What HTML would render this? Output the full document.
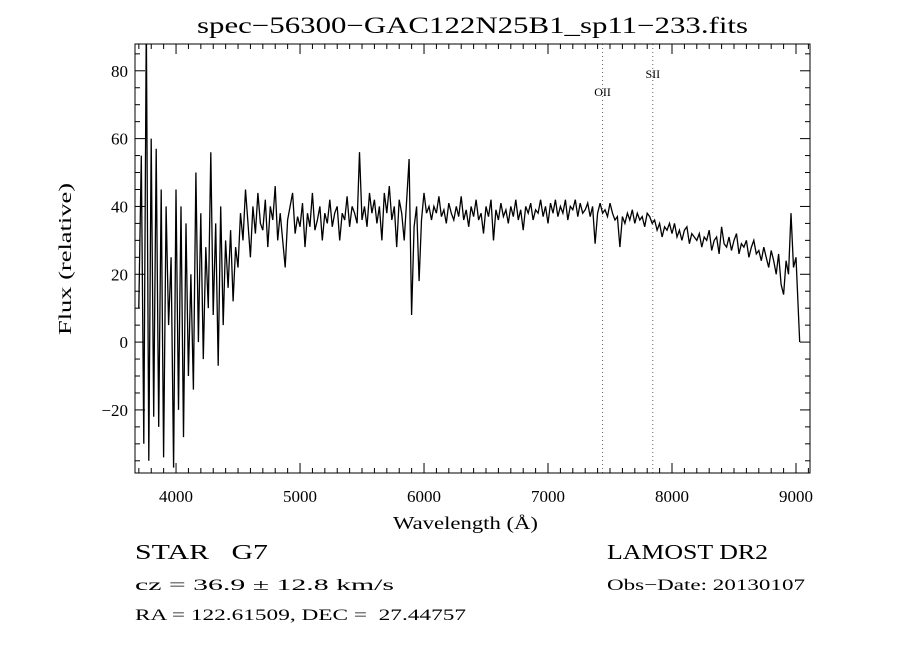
<!DOCTYPE html>
<html><head><meta charset="utf-8">
<style>
html,body{margin:0;padding:0;background:#fff;}
svg{display:block;font-family:"Liberation Serif",serif;}
</style></head>
<body>
<svg id="chart" width="900" height="650" viewBox="0 0 900 650" xmlns="http://www.w3.org/2000/svg">
<rect width="900" height="650" fill="#fff"/>
<text x="197" y="33" font-size="23" textLength="551" lengthAdjust="spacingAndGlyphs">spec−56300−GAC122N25B1_sp11−233.fits</text>
<defs><clipPath id="pc"><rect x="135" y="44" width="675" height="429"/></clipPath></defs>
<g id="lines"></g>
<path id="spec" clip-path="url(#pc)" fill="none" stroke="#000" stroke-width="1.3"/>
<rect x="135" y="44" width="675" height="429" fill="none" stroke="#000" stroke-width="1"/>
<g id="axes"></g>
<text x="393" y="529" font-size="18" textLength="145" lengthAdjust="spacingAndGlyphs">Wavelength (Å)</text>
<text transform="translate(71,335) rotate(-90)" font-size="18" textLength="152" lengthAdjust="spacingAndGlyphs">Flux (relative)</text>
<text x="135" y="559" font-size="21" textLength="133" lengthAdjust="spacingAndGlyphs">STAR&#160;&#160;&#160;G7</text>
<text x="135" y="590" font-size="16" textLength="259" lengthAdjust="spacingAndGlyphs">cz = 36.9 ± 12.8 km/s</text>
<text x="135" y="620" font-size="16" textLength="331" lengthAdjust="spacingAndGlyphs">RA = 122.61509, DEC =&#160;&#160;27.44757</text>
<text x="607" y="559" font-size="21" textLength="161" lengthAdjust="spacingAndGlyphs">LAMOST DR2</text>
<text x="607" y="590" font-size="16" textLength="198" lengthAdjust="spacingAndGlyphs">Obs−Date: 20130107</text>
</svg>
<script>
const wlStart = 3700;
const wlStep = 20;
const flux = [10,55,-30,95,-35,60,-22,57,-25,45,
-34,40,5,25,-37,45,-20,40,-28,35,
-10,20,-14,50,0,38,-5,28,10,56,
8,35,-7,40,5,30,16,33,12,28,
22,38,30,45,35,25,40,32,44,35,
33,42,28,40,36,46,30,38,30,22,
36,40,44,32,37,34,41,28,38,34,
44,33,36,40,30,38,35,42,34,38,
40,30,38,36,43,34,40,38,35,56,
36,40,34,44,38,42,35,40,30,44,
38,46,36,40,28,42,38,30,42,54,
8,34,40,18,36,44,38,40,36,40,
38,43,37,39,35,41,38,36,40,37,
43,36,39,34,40,37,42,36,38,32,
40,37,42,30,39,36,41,37,39,35,
40,37,42,36,39,33,40,38,41,36,
39,38,42,37,40,35,41,38,42,37,
40,38,42,36,40,39,42,37,41,38,
39,41,37,40,29,38,41,38,39,37,
41,38,36,37,28,37,35,38,36,39,
35,38,36,37,34,38,37,35,36,33,
35,31,34,33,35,32,35,31,33,30,
33,34,29,32,31,30,32,28,31,30,
33,27,30,31,26,34,29,28,31,27,
30,32,26,29,28,30,25,28,30,26,
27,24,28,25,22,27,24,20,26,17,
14,24,20,38,22,25,8,0];
const xTicks = [4000,5000,6000,7000,8000,9000];
const yTicks = [-20,0,20,40,60,80];
const lineNames = ["OII","SII"];
const lineWl = [7440,7845];
const lineLabelY = [96,78];

const X0=135,X1=810,Y0=44,Y1=473;
const wMin=3669,wMax=9113,fMin=-38.6,fMax=87.9;
const xs=w=>X0+(w-wMin)/(wMax-wMin)*(X1-X0);
const ys=f=>Y1-(f-fMin)/(fMax-fMin)*(Y1-Y0);
const NS="http://www.w3.org/2000/svg";

let d="";
flux.forEach((f,i)=>{const w=Math.min(wlStart+i*wlStep,9030);d+=(i?"L":"M")+xs(w).toFixed(1)+" "+ys(f).toFixed(1);});
document.getElementById("spec").setAttribute("d",d);

const ax=document.getElementById("axes");
function ln(x1,y1,x2,y2,name){const l=document.createElementNS(NS,"line");
l.setAttribute("x1",x1);l.setAttribute("y1",y1);l.setAttribute("x2",x2);l.setAttribute("y2",y2);
l.setAttribute("stroke","#000");l.setAttribute("stroke-width","1");


ax.appendChild(l);}
function tx(x,y,s,anchor,name){const t=document.createElementNS(NS,"text");
t.setAttribute("x",x);t.setAttribute("y",y);t.setAttribute("font-size","17");t.setAttribute("text-anchor",anchor);t.textContent=s;


ax.appendChild(t);}
for(let w=3700;w<=9100;w+=100){const x=xs(w);const L=(w%1000===0)?10:5;
ln(x,Y1,x,Y1-L,"x-tick");ln(x,Y0,x,Y0+L,"x-tick-top");}
for(let f=-35;f<=85;f+=5){const y=ys(f);const L=(f%20===0)?10:5;
ln(X0,y,X0+L,y,"y-tick");ln(X1,y,X1-L,y,"y-tick-right");}
xTicks.forEach(w=>tx(xs(w),502,String(w),"middle","x-tick-label"));
yTicks.forEach(f=>tx(128,ys(f)+6,String(f).replace("-","−"),"end","y-tick-label"));

const lg=document.getElementById("lines");
lineWl.forEach((w,i)=>{const l=document.createElementNS(NS,"line");const x=xs(w);
l.setAttribute("x1",x);l.setAttribute("x2",x);l.setAttribute("y1",Y0);l.setAttribute("y2",Y1);
l.setAttribute("stroke","#7a5a5a");l.setAttribute("stroke-dasharray","1 3");


lg.appendChild(l);
const t=document.createElementNS(NS,"text");t.setAttribute("x",x);t.setAttribute("y",lineLabelY[i]);
t.setAttribute("font-size","12");t.setAttribute("text-anchor","middle");t.textContent=lineNames[i];


lg.appendChild(t);});
</script>
</body></html>
